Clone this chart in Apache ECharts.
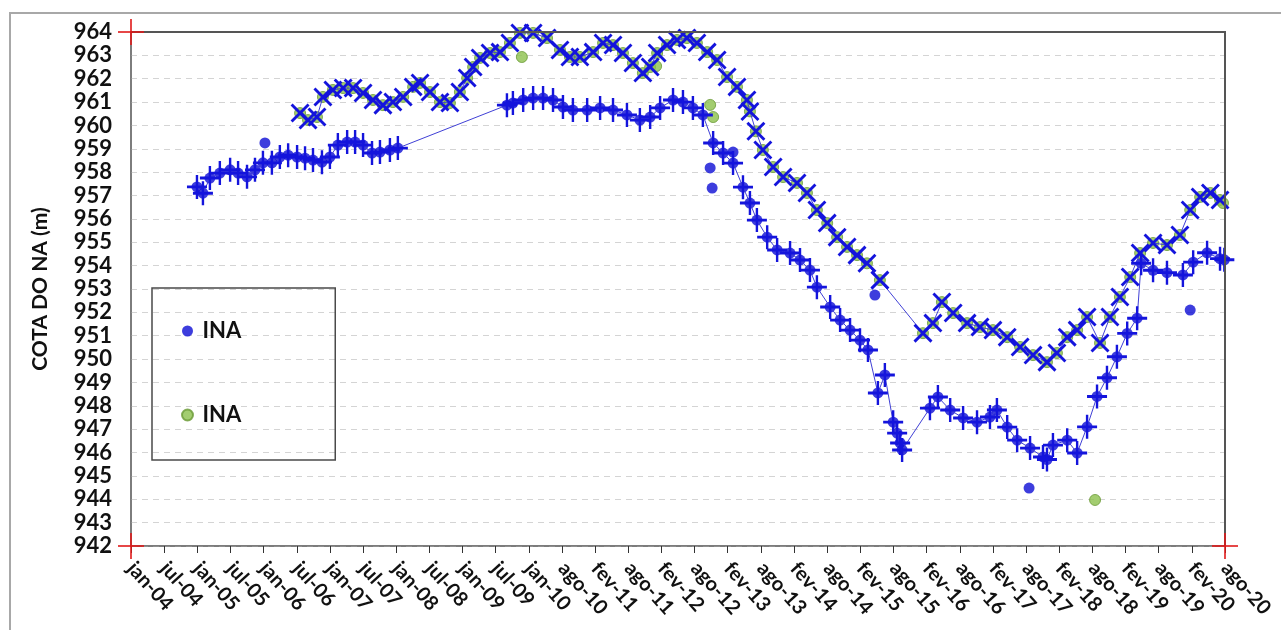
<!DOCTYPE html>
<html>
<head>
<meta charset="utf-8">
<script src="https://cdn.jsdelivr.net/npm/echarts@6/dist/echarts.min.js"></script>
<style>
html,body{margin:0;padding:0;background:#fff;}
#chart{width:1281px;height:630px;}
</style>
</head>
<body>
<div id="chart"></div>
<script>
// X axis tick labels (one per axis interval)
const xLabels = ['jan-04','jul-04','jan-05','jul-05','jan-06','jul-06','jan-07','jul-07','jan-08','jul-08','jan-09','jul-09','jan-10','ago-10','fev-11','ago-11','fev-12','ago-12','fev-13','ago-13','fev-14','ago-14','fev-15','ago-15','fev-16','ago-16','fev-17','ago-17','fev-18','ago-18','fev-19','ago-19','fev-20','ago-20'];
const yMin = 942, yMax = 964;

// Lower INA series: [position on date axis (tick units), water level (m)]
const lowerLine = [
 [1.99,957.37],[2.17,957.10],[2.38,957.75],[2.68,957.96],[2.99,958.10],[3.23,957.96],[3.50,957.80],[3.74,958.10],
 [3.98,958.40],[4.25,958.40],[4.49,958.65],[4.74,958.73],[5.01,958.65],[5.25,958.60],[5.49,958.52],[5.76,958.43],
 [6.00,958.65],[6.24,959.16],[6.52,959.29],[6.76,959.29],[7.00,959.16],[7.27,958.82],[7.51,958.86],[7.81,958.95],
 [8.05,959.03],[11.34,960.87],[11.52,960.96],[11.83,961.09],[12.13,961.17],[12.43,961.17],[12.73,961.09],[13.03,960.79],
 [13.33,960.66],[13.76,960.66],[14.15,960.75],[14.54,960.66],[14.96,960.45],[15.35,960.23],[15.66,960.36],[15.96,960.75],
 [16.35,961.09],[16.65,961.00],[16.95,960.75],[17.25,960.45],[17.56,959.25],[17.86,958.82],[18.16,958.39],[18.46,957.36],
 [18.67,956.68],[18.88,955.95],[19.19,955.22],[19.49,954.67],[19.88,954.54],[20.18,954.24],[20.48,953.81],[20.69,953.08],
 [21.09,952.23],[21.39,951.67],[21.69,951.24],[21.99,950.81],[22.23,950.39],[22.53,948.55],[22.74,949.32],[22.99,947.30],
 [23.11,946.83],[23.20,946.41],[23.26,946.11],[24.10,947.90],[24.34,948.38],[24.71,947.82],[25.10,947.48],[25.52,947.30],
 [25.91,947.52],[26.12,947.82],[26.43,947.09],[26.73,946.53],[27.12,946.19],[27.51,945.81],[27.63,945.70],[27.81,946.32],
 [28.24,946.53],[28.54,945.98],[28.84,947.10],[29.14,948.40],[29.44,949.20],[29.74,950.10],[30.05,951.10],[30.35,951.75],
 [30.47,954.10],[30.83,953.80],[31.25,953.70],[31.73,953.60],[32.04,954.15],[32.46,954.55],[32.85,954.30],[32.98,954.25]
];
// Upper INA series
const upperLine = [
 [5.10,960.53],[5.34,960.23],[5.61,960.36],[5.79,961.22],[6.09,961.52],[6.40,961.60],[6.70,961.60],[7.00,961.39],
 [7.30,961.09],[7.60,960.87],[7.90,961.00],[8.21,961.22],[8.51,961.65],[8.72,961.82],[9.02,961.43],[9.32,961.00],
 [9.62,960.96],[9.92,961.43],[10.14,962.03],[10.32,962.50],[10.53,962.89],[10.83,963.10],[11.13,963.14],[11.43,963.53],
 [11.73,963.96],[12.13,963.96],[12.55,963.74],[12.94,963.23],[13.24,962.93],[13.54,962.93],[13.94,963.14],[14.24,963.53],
 [14.54,963.44],[14.84,963.10],[15.14,962.67],[15.44,962.24],[15.66,962.50],[15.87,963.10],[16.17,963.44],[16.47,963.66],
 [16.77,963.74],[17.07,963.53],[17.38,963.14],[17.68,962.80],[17.98,962.07],[18.28,961.65],[18.58,961.09],[18.67,960.60],
 [18.85,959.75],[19.06,958.95],[19.37,958.22],[19.67,957.79],[20.09,957.54],[20.39,957.11],[20.69,956.38],[21.00,955.82],
 [21.30,955.22],[21.60,954.80],[21.90,954.45],[22.20,954.10],[22.59,953.38],[23.89,951.11],[24.19,951.54],[24.46,952.44],
 [24.80,951.97],[25.22,951.54],[25.61,951.37],[26.00,951.24],[26.43,950.94],[26.82,950.52],[27.21,950.17],[27.63,949.87],
 [27.93,950.26],[28.24,950.94],[28.54,951.24],[28.84,951.80],[29.23,950.69],[29.53,951.80],[29.83,952.66],[30.14,953.51],
 [30.44,954.54],[30.83,954.97],[31.25,954.88],[31.64,955.31],[31.95,956.38],[32.25,956.94],[32.56,957.11],[32.85,956.81]
];
// Isolated readings shown only as circles
const lowerOutliers = [[4.04,959.25],[17.47,958.18],[17.53,957.32],[18.16,958.86],[22.44,952.74],[27.09,944.48],[31.95,952.10]];
const upperOutliers = [[11.79,962.93],[15.84,962.54],[17.47,960.88],[17.56,960.36],[29.08,943.97],[32.94,956.68]];

const barPath = 'path://M8.8,0h2.4v20h-2.4z M0,8.8h20v2.4h-20z';
const markBlue = '#1414dc';
const font = 'Lato, "Open Sans", sans-serif';

const chart = echarts.init(document.getElementById('chart'), null, {renderer:'canvas'});
chart.setOption({
  animation: false,
  backgroundColor: '#fff',
  grid: {left:131, top:32, right:56, bottom:84, show:true, borderColor:'#6a6a6a', borderWidth:1.5, backgroundColor:'transparent'},
  legend: {
    orient:'vertical', left:152, top:288,
    data:['INA_1','INA_2'],
    formatter: () => 'INA',
    itemWidth:20, itemHeight:11, itemGap:62,
    padding:[32,94,34,29],
    borderColor:'#4a4a4a', borderWidth:1.5,
    textStyle:{fontFamily:font, fontWeight:'bold', fontSize:22, color:'#111'}
  },
  xAxis: {
    type:'value', min:0, max:xLabels.length-1, interval:1,
    axisLine:{show:true, lineStyle:{color:'#777', width:1.5}},
    axisTick:{show:true, length:7, lineStyle:{color:'#333'}},
    splitLine:{show:false},
    axisLabel:{formatter:v => xLabels[Math.round(v)] || '', rotate:-48, margin:19,
      fontFamily:font, fontWeight:'bold', fontSize:20, color:'#111'}
  },
  yAxis: {
    type:'value', min:yMin, max:yMax, interval:1,
    name:'COTA DO NA (m)', nameLocation:'middle', nameGap:80,
    nameTextStyle:{fontFamily:font, fontWeight:'bold', fontSize:21, color:'#111'},
    axisLine:{show:true, lineStyle:{color:'#777', width:1.5}},
    axisTick:{show:false},
    splitLine:{show:true, lineStyle:{color:'#d4d4d4', type:[6,5], width:1}},
    axisLabel:{margin:19, fontFamily:font, fontWeight:'bold', fontSize:22, color:'#111'}
  },
  series: [
    {name:'INA_1', type:'scatter', data:lowerLine.concat(lowerOutliers), symbol:'circle', symbolSize:11,
     itemStyle:{color:'#0c0cd4'}, z:2},
    {name:'INA_2', type:'scatter', data:upperLine.concat(upperOutliers), symbol:'circle', symbolSize:11,
     itemStyle:{color:'#8cc04c', borderColor:'#6a9a36', borderWidth:1}, z:2},
    {name:'lowerMarks', type:'line', data:lowerLine, symbol:barPath, symbolSize:[20,24],
     itemStyle:{color:markBlue}, lineStyle:{color:'#4040d6', width:1}, z:3},
    {name:'upperMarks', type:'line', data:upperLine, symbol:barPath, symbolSize:24, symbolRotate:45,
     itemStyle:{color:markBlue}, lineStyle:{color:'#4040d6', width:1}, z:3}
  ]
});

// decorative frame, plot border and red corner crosses, positioned from the axes
function cross(pt){
  const h = 13;
  return [
    {type:'line', shape:{x1:pt[0]-h, y1:pt[1], x2:pt[0]+h, y2:pt[1]}, style:{stroke:'#e01818', lineWidth:1.6}, z:100},
    {type:'line', shape:{x1:pt[0], y1:pt[1]-h, x2:pt[0], y2:pt[1]+h}, style:{stroke:'#e01818', lineWidth:1.6}, z:100}
  ];
}
const pTL = chart.convertToPixel({gridIndex:0}, [0, yMax]);
const pTR = chart.convertToPixel({gridIndex:0}, [xLabels.length-1, yMax]);
const pBL = chart.convertToPixel({gridIndex:0}, [0, yMin]);
const pBR = chart.convertToPixel({gridIndex:0}, [xLabels.length-1, yMin]);
chart.setOption({
  graphic: [
    {type:'rect', shape:{x:10, y:13, width:1300, height:700}, style:{fill:'none', stroke:'#a8a8a8', lineWidth:2}, z:-1},
    {type:'polyline', shape:{points:[pTL, pTR, pBR]}, style:{fill:'none', stroke:'#555', lineWidth:2}, z:50}
  ].concat(cross(pTL), cross(pBL), cross(pBR))
});
</script>
</body>
</html>
